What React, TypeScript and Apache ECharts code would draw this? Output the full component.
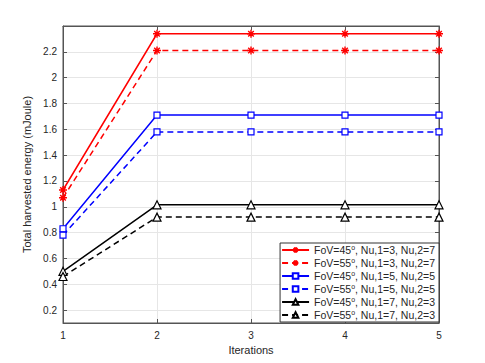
import React, { useEffect, useRef } from "react";
import * as echarts from "echarts";

const iterations = [1, 2, 3, 4, 5];
const yTicks = [0.2, 0.4, 0.6, 0.8, 1.0, 1.2, 1.4, 1.6, 1.8, 2.0, 2.2];
const seriesNames = [
  "FoV=45{sup|o}, Nu,1=3, Nu,2=7",
  "FoV=55{sup|o}, Nu,1=3, Nu,2=7",
  "FoV=45{sup|o}, Nu,1=5, Nu,2=5",
  "FoV=55{sup|o}, Nu,1=5, Nu,2=5",
  "FoV=45{sup|o}, Nu,1=7, Nu,2=3",
  "FoV=55{sup|o}, Nu,1=7, Nu,2=3",
];
const red45 = [1.13, 2.34, 2.34, 2.34, 2.34];
const red55 = [1.07, 2.21, 2.21, 2.21, 2.21];
const blue45 = [0.83, 1.71, 1.71, 1.71, 1.71];
const blue55 = [0.78, 1.58, 1.58, 1.58, 1.58];
const black45 = [0.5, 1.015, 1.015, 1.015, 1.015];
const black55 = [0.46, 0.92, 0.92, 0.92, 0.92];

const ASTERISK =
  "path://M5,0L5,10M0,5L10,5M1.5,1.5L8.5,8.5M1.5,8.5L8.5,1.5";

export default function App() {
  const ref = useRef<HTMLDivElement>(null);
  useEffect(() => {
    if (!ref.current) return;
    const chart = echarts.init(ref.current, undefined, { renderer: "svg" });
    const font = "Liberation Sans";
    const axisColor = "#555555";
    const textColor = "#262626";
    const mk = (
      idx: number,
      data: number[],
      color: string,
      dashed: boolean,
      symbol: string,
      size: number
    ) => ({
      name: seriesNames[idx],
      type: "line",
      xAxisIndex: 0,
      yAxisIndex: 0,
      data: iterations.map((x, i) => [x, data[i]]),
      symbol,
      symbolSize: size,
      showAllSymbol: true,
      lineStyle: { color, width: 1.5, type: dashed ? [6, 4] : "solid" },
      itemStyle: {
        color: symbol === ASTERISK ? color : "#ffffff",
        borderColor: color,
        borderWidth: symbol === ASTERISK ? 1.4 : 1.2,
      },
      emphasis: { disabled: true },
      z: 3,
    });
    chart.setOption({
      animation: false,
      backgroundColor: "#ffffff",
      grid: {
        left: 63,
        right: 46,
        top: 26,
        bottom: 40,
        show: true,
        borderColor: axisColor,
        borderWidth: 1,
        backgroundColor: "#ffffff",
      },
      legend: {
        orient: "vertical",
        right: 46,
        bottom: 41,
        backgroundColor: "#ffffff",
        borderColor: "#333333",
        borderWidth: 1,
        borderRadius: 0,
        padding: [1, 4, 1, 1],
        itemGap: 1,
        itemWidth: 27,
        itemHeight: 7,
        align: "left",
        textStyle: {
          fontFamily: font,
          fontSize: 10.5,
          lineHeight: 12,
          color: textColor,
          rich: {
            sup: { fontSize: 7, lineHeight: 8, verticalAlign: "top", fontFamily: font, color: textColor },
          },
        },
        data: seriesNames,
      },
      xAxis: [
        {
          type: "value",
          min: 1,
          max: 5,
          interval: 1,
          position: "bottom",
          name: "Iterations",
          nameLocation: "middle",
          nameGap: 21,
          nameTextStyle: { fontFamily: font, fontSize: 11, color: textColor },
          axisLine: { show: true, lineStyle: { color: axisColor } },
          axisTick: { show: true, inside: true, length: 4, lineStyle: { color: axisColor } },
          axisLabel: { fontFamily: font, fontSize: 10, color: textColor, margin: 7 },
          splitLine: { show: true, lineStyle: { color: "#e6e6e6", width: 1 } },
        },
        {
          type: "value",
          min: 1,
          max: 5,
          interval: 1,
          position: "top",
          axisLine: { show: true, lineStyle: { color: axisColor } },
          axisTick: { show: true, inside: true, length: 4, lineStyle: { color: axisColor } },
          axisLabel: { show: false },
          splitLine: { show: false },
        },
      ],
      yAxis: [
        {
          type: "value",
          min: 0.1,
          max: 2.4,
          position: "left",
          name: "Total harvested energy (mJoule)",
          nameLocation: "middle",
          nameGap: 19,
          nameTextStyle: { fontFamily: font, fontSize: 11, color: textColor },
          axisLine: { show: true, lineStyle: { color: axisColor } },
          axisTick: {
            show: true,
            inside: true,
            length: 4,
            customValues: yTicks,
            lineStyle: { color: axisColor },
          },
          axisLabel: {
            fontFamily: font,
            fontSize: 10,
            color: textColor,
            margin: 6,
            customValues: yTicks,
            formatter: (v: number) => String(Math.round(v * 10) / 10),
          },
          splitLine: { show: true, lineStyle: { color: "#e6e6e6", width: 1 } },
        },
        {
          type: "value",
          min: 0.1,
          max: 2.4,
          position: "right",
          axisLine: { show: true, lineStyle: { color: axisColor } },
          axisTick: {
            show: true,
            inside: true,
            length: 4,
            customValues: yTicks,
            lineStyle: { color: axisColor },
          },
          axisLabel: { show: false, customValues: yTicks },
          splitLine: { show: false },
        },
      ],
      series: [
        mk(0, red45, "#ff0000", false, ASTERISK, 8),
        mk(1, red55, "#ff0000", true, ASTERISK, 8),
        mk(2, blue45, "#0000ff", false, "rect", 6),
        mk(3, blue55, "#0000ff", true, "rect", 6),
        mk(4, black45, "#000000", false, "triangle", 8),
        mk(5, black55, "#000000", true, "triangle", 8),
      ],
    });
    return () => chart.dispose();
  }, []);
  return <div ref={ref} style={{ width: 485, height: 363, margin: -8 }} />;
}
